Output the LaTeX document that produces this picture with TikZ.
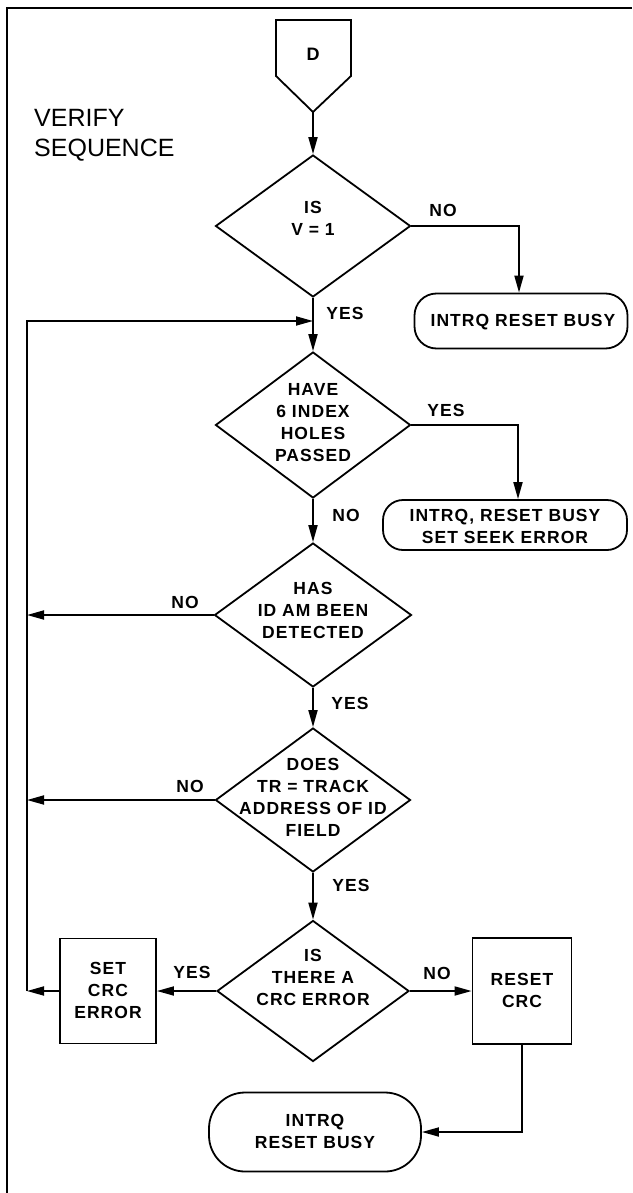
\documentclass[tikz,border=0pt]{standalone}
\usepackage{fontspec}
\setmainfont{Liberation Sans}
\newfontfamily\labfont[LetterSpace=6]{Liberation Sans}
\usetikzlibrary{arrows.meta,shapes.geometric,calc}
\begin{document}
\begin{tikzpicture}[x=1pt,y=-1pt,
  ln/.style={line width=1.8pt,line join=miter},
  arr/.style={ln,-{Triangle[length=17pt,width=9pt]}},
  dia/.style={draw,ln,diamond,inner sep=0pt},
  txt/.style={align=center,inner sep=0pt,font=\labfont\bfseries\fontsize{17.5}{22}\selectfont},
  lbl/.style={inner sep=0pt,font=\labfont\bfseries\fontsize{17.5}{20}\selectfont},
  boxx/.style={draw,ln,inner sep=0pt},
  term/.style={draw,ln,inner sep=0pt}]
\useasboundingbox (0,0) rectangle (632,1193);
% frame
\draw[line width=2pt] (7,1193) -- (7,8) -- (632,8);
% title
\node[anchor=west,align=left,inner sep=0pt,font=\fontsize{25}{30}\selectfont] (title) at (34,135) {VERIFY\\SEQUENCE};
% connector D
\draw[ln] (276,20) -- (351,20) -- (351,76) -- (313,112) -- (276,76) -- cycle;
\coordinate (dtip) at (313,112);
\node[font=\bfseries\fontsize{18}{18}\selectfont,inner sep=0pt] (dlab) at (313,54) {D};
% diamonds
\node[dia,minimum width=195pt,minimum height=142pt] (d1) at (313,226) {};
\node[txt] (d1t) at (313,218) {IS\\V = 1};
\node[dia,minimum width=195pt,minimum height=146pt] (d2) at (313,425) {};
\node[txt] (d2t) at (313,423) {HAVE\\6 INDEX\\HOLES\\PASSED};
\node[dia,minimum width=197pt,minimum height=144pt] (d3) at (313,615) {};
\node[txt] (d3t) at (313,610) {HAS\\ID AM BEEN\\DETECTED};
\node[dia,minimum width=195pt,minimum height=144pt] (d4) at (313,800) {};
\node[txt] (d4t) at (313,797) {DOES\\TR = TRACK\\ADDRESS OF ID\\FIELD};
\node[dia,minimum width=192pt,minimum height=141pt] (d5) at (313,991) {};
\node[txt] (d5t) at (313,977) {IS\\THERE A\\CRC ERROR};
% terminals and boxes
\node[term,rounded corners=22pt,minimum width=213pt,minimum height=55pt] (t1) at (521,321) {};
\node[txt] (t1t) at (523,322) {INTRQ RESET BUSY};
\node[term,rounded corners=20pt,minimum width=244pt,minimum height=50pt] (t2) at (505,525) {};
\node[txt] (t2t) at (505,526) {INTRQ, RESET BUSY\\SET SEEK ERROR};
\node[boxx,minimum width=96pt,minimum height=105pt] (sce) at (108,991) {};
\node[txt] (scet) at (108,990) {SET\\CRC\\ERROR};
\node[boxx,minimum width=99pt,minimum height=106pt] (rc) at (522,991) {};
\node[txt] (rct) at (522,990) {RESET\\CRC};
\node[term,rounded corners=36pt,minimum width=212pt,minimum height=79pt] (t3) at (315,1132) {};
\node[txt] (t3t) at (315,1131) {INTRQ\\RESET BUSY};
% labels
\node[lbl] (l1) at (443,210) {NO};
\node[lbl] (l2) at (345,313) {YES};
\node[lbl] (l3) at (446,410) {YES};
\node[lbl] (l4) at (346,515) {NO};
\node[lbl] (l5) at (185,602) {NO};
\node[lbl] (l6) at (350,703) {YES};
\node[lbl] (l7) at (190,786) {NO};
\node[lbl] (l8) at (351,885) {YES};
\node[lbl] (l9) at (192,972) {YES};
\node[lbl] (l10) at (437,973) {NO};
% loop coordinates
\coordinate (lpb) at (27,991);
\coordinate (lpt) at (27,321);
\coordinate (join) at (313,321);
% connectors
\draw[arr] (dtip) -- (d1.north);
\draw[arr] (d1.east) -| ([xshift=-2pt]t1.north);
\draw[arr] (d1.south) -- (d2.north);
\draw[arr] (d2.east) -| ([xshift=13pt]t2.north);
\draw[arr] (d2.south) -- (d3.north);
\draw[arr] (d3.west) -- (d3.west -| lpb);
\draw[arr] (d3.south) -- (d4.north);
\draw[arr] (d4.west) -- (d4.west -| lpb);
\draw[arr] (d4.south) -- (d5.north);
\draw[arr] (d5.west) -- (sce.east);
\draw[arr] (d5.east) -- (rc.west);
\draw[arr] (sce.west) -- (lpb);
\draw[arr] (lpb) -- (lpt) -- (join);
\draw[arr] (rc.south) |- (t3.east);
\end{tikzpicture}
\end{document}
